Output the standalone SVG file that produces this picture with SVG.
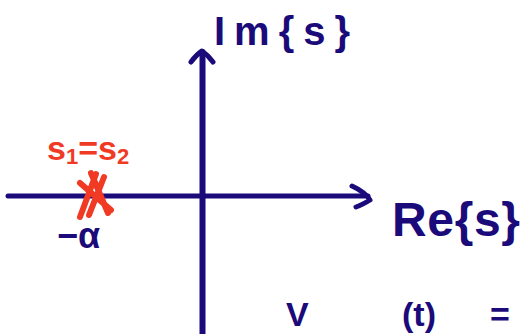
<svg xmlns="http://www.w3.org/2000/svg" width="522" height="334" viewBox="0 0 522 334">
<style>
.ax{stroke:#1b0a7a;stroke-width:5;fill:none;stroke-linecap:round;stroke-linejoin:round}
.nv{fill:#1b0a7a;font-family:"Liberation Sans",Arial,sans-serif;font-weight:bold}
.rd{fill:#f03a24;font-family:"Liberation Sans",Arial,sans-serif;font-weight:bold}
.rx{stroke:#f03a24;stroke-width:6;fill:none;stroke-linecap:round}
</style>
<rect width="522" height="334" fill="#fff"/>
<g id="connectors">
<path class="ax" d="M8 196 L368 196"/>
<path class="ax" d="M352 186 Q365 192 370 200 Q362 205 356 207"/>
<path class="ax" d="M202.5 334 L202.5 52" style="stroke-width:6"/>
<path class="ax" d="M191 62 Q197 54 202 51 Q208 55 213 62"/>
</g>
<g id="im-label"><text class="nv" x="214" y="45" font-size="40" textLength="136" lengthAdjust="spacing">Im{s}</text></g>
<g id="re-label"><text class="nv" x="392" y="236" font-size="48" textLength="128" lengthAdjust="spacing">Re{s}</text></g>
<g id="pole">
<path class="rx" d="M96 174 L80 217 M104 177 L89 215 M80 183 L111 210 M91 173 L108 213"/>
<text class="rd" x="47" y="160" font-size="34">s<tspan font-size="22" dy="4">1</tspan><tspan dy="-4">=s</tspan><tspan font-size="22" dy="4">2</tspan></text>
</g>
<g id="alpha"><text class="nv" x="57" y="248" font-size="36">−α</text></g>
<g id="formula"><text class="nv" x="286" y="326" font-size="34">V<tspan x="402">(t)</tspan><tspan x="490">=</tspan></text></g>
</svg>
